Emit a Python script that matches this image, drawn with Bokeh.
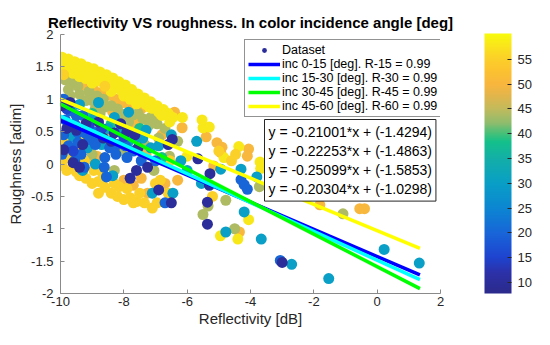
import numpy as np
from bokeh.plotting import figure
from bokeh.models import (Range1d, LinearColorMapper, ColorBar, FixedTicker, Legend,
                          LegendItem, Label, ColumnDataSource)
from bokeh.embed import file_html
from bokeh.resources import INLINE

TITLE = "Reflectivity VS roughness. In color incidence angle [deg]"
X_LABEL = "Reflectivity [dB]"
Y_LABEL = "Roughness [adim]"

# ---- scatter data: (reflectivity dB, roughness) grouped by incidence angle ----
pts_58 = [(-9.95,1.65),(-9.75,1.62),(-9.55,1.58),(-9.35,1.55),(-9.15,1.5),(-8.95,1.47),(-8.75,1.42),
          (-8.55,1.38),(-8.35,1.33),(-8.15,1.27),(-7.95,1.22),(-7.75,1.15),(-7.55,1.08),(-7.35,1.02),
          (-7.15,0.96),(-6.95,0.9),(-6.75,0.84),(-9.9,1.52),(-9.7,1.5),(-9.5,1.46),(-9.3,1.42),(-9.1,1.38),
          (-8.9,1.34),(-8.7,1.3),(-8.5,1.26),(-8.3,1.2),(-8.1,1.14),(-7.9,1.1),(-7.7,1.04),(-7.5,0.98),
          (-7.3,0.92),(-7.1,0.86),(-6.9,0.8),(-6.6,0.78),(-6.45,0.72),(-9.4,1.35),(-9.0,1.25),(-8.4,1.12),
          (-7.6,0.93),(-6.15,0.72),(-5.53,0.68),(-5.5,0.56),(-5.3,0.57),(-4.37,0.27),(-4.84,0.1),(-6.0,0.12),
          (-3.7,0.03),(-3.68,-0.07),(-2.7,-0.18),(-2.47,-0.18),(-4.06,-0.86),(-4.95,-1.11),(-4.4,-1.16),
          (-9.95,1.45),(-9.6,1.4),(-9.2,1.32),(-8.8,1.28),(-8.0,1.05),(-7.8,1.0),(-7.2,0.88),(-6.8,0.75),
          (-6.55,0.65)]
pts_55 = [(-9.95,-0.02),(-9.8,-0.1),(-9.6,-0.06),(-9.4,-0.18),(-9.2,-0.22),(-9.0,-0.3),(-8.8,-0.27),
          (-8.6,-0.36),(-8.4,-0.45),(-8.2,-0.5),(-8.0,-0.55),(-7.8,-0.52),(-7.6,-0.58),(-7.35,-0.6),
          (-7.1,-0.68),(-6.95,-0.6),(-8.3,-0.3),(-7.9,-0.38),(-8.7,-0.12),(-9.25,0.05),(-9.7,0.12),
          (-9.55,0.25),(-9.85,0.35),(-9.65,0.5),(-9.2,0.38),(-8.95,-0.1),(-6.55,0.05),(-6.85,-0.25),
          (-5.2,-0.5),(-4.6,0.05),(-4.47,0.15),(-5.0,0.2),(-9.9,1.38),(-8.6,1.2),(-9.8,0.1),(-9.5,-0.12),
          (-8.15,-0.35),(-7.5,-0.45),(-7.0,-0.3),(-6.6,-0.45),(-8.8,-0.45),(-7.7,-0.6)]
pts_50 = [(-9.55,1.25),(-9.25,1.22),(-8.95,1.15),(-8.45,1.06),(-8.25,1.0),(-8.0,0.95),(-7.8,0.9),
          (-7.45,0.85),(-8.85,0.12),(-8.95,0.05),(-8.0,-0.25),(-7.7,-0.33),(-7.45,-0.22),(-7.25,-0.45),
          (-7.3,0.15),(-6.4,0.8),(-6.16,0.56),(-5.4,0.42),(-5.06,0.33),(-4.9,0.26),(-4.06,0.23),
          (-4.94,0.18),(-4.1,0.12),(-5.16,-0.03),(-2.66,-0.26),(-2.03,-0.21),(-1.81,-0.63),(-0.55,-0.69),
          (-0.4,-0.69),(-4.35,-1.05),(-6.3,-0.25),(-9.45,0.4),(-7.55,0.65),(-7.0,0.7),(-6.7,-0.3),
          (-8.65,1.12),(-8.35,0.8),(-7.65,0.6),(-6.8,0.45)]
pts_44 = [(-9.85,1.3),(-9.65,1.28),(-9.45,1.2),(-9.75,1.15),(-9.1,1.12),(-8.85,1.05),(-8.65,1.0),
          (-8.6,0.88),(-8.9,0.86),(-9.2,0.98),(-8.2,0.85),(-8.0,0.77),(-7.7,0.76),(-7.4,0.7),(-8.03,0.2),
          (-7.34,0.3),(-6.56,0.12),(-7.05,-0.1),(-6.9,0.4),(-5.5,-0.78),(-5.34,-0.65),(-4.78,-0.56),
          (-3.72,-0.35),(-4.5,-1.0),(-1.08,-0.77),(-9.3,0.55),(-8.5,0.45),(-7.2,0.6),(-6.3,0.35),
          (-9.0,0.15),(-9.55,-0.05),(-8.3,-0.1),(-9.7,1.05),(-9.4,1.08),(-9.0,0.98),(-8.75,0.78),
          (-8.4,0.9),(-8.1,0.7),(-7.85,0.65),(-7.55,0.78),(-7.15,0.72),(-6.95,0.62),(-6.7,0.55)]
pts_38 = [(-9.0,0.78),(-8.4,0.62),(-7.5,0.55),(-6.8,0.1),(-9.6,0.9)]
pts_30 = [(-9.4,0.92),(-9.0,0.68),(-8.8,0.95),(-8.3,0.72),(-7.6,0.42),(-7.3,0.52),(-6.9,0.28),(-6.5,0.45),
          (-6.2,0.05),(-7.1,-0.45),(-6.45,-0.45),(-6.0,-0.1),(-4.94,-0.08),(-4.3,-0.08),(-3.8,-0.2),
          (-4.2,-0.74),(-4.78,-1.05),(-3.66,-1.16),(-2.7,-1.55),(-1.53,-1.77),(0.22,-1.32),(1.33,-1.53),
          (-9.6,0.42),(-9.15,0.25),(-8.7,0.3),(-5.55,-0.3),(-5.7,0.35),(-7.85,0.8),(-9.3,-0.1),
          (-8.5,0.55),(-8.15,0.5),(-7.85,0.35),(-7.4,0.4),(-7.15,0.25),(-8.9,0.0),(-8.35,-0.18)]
pts_20 = [(-9.9,1.0),(-9.7,0.82),(-9.5,0.75),(-9.85,0.68),(-9.55,0.62),(-9.3,0.75),(-9.9,0.45),
          (-9.75,0.28),(-9.45,0.33),(-9.2,0.47),(-8.95,0.5),(-9.35,0.15),(-8.6,0.1),(-8.62,-0.05),
          (-8.55,-0.2),(-8.2,0.3),(-8.9,0.3),(-6.7,-0.6),(-4.3,-0.24),(-4.2,-0.32),(-4.1,-0.39),
          (-3.06,-1.49),(-9.95,0.15),(-7.9,0.1),(-7.0,0.05),(-9.7,0.6),(-9.45,0.48),(-9.1,0.38),
          (-8.85,0.42),(-8.45,0.25),(-8.25,0.15),(-7.95,0.28),(-7.7,0.2),(-7.45,0.05),(-9.55,0.05),
          (-9.25,-0.05)]
pts_15 = [(-9.8,0.85),(-9.1,0.6),(-8.7,0.55),(-8.0,0.42),(-9.6,0.2)]
pts_10 = [(-9.95,0.9),(-9.7,0.95),(-9.5,0.52),(-9.8,0.55),(-9.9,0.22),(-9.6,0.02),(-9.2,0.62),(-8.8,0.65),
          (-7.9,0.5),(-7.65,0.45),(-7.8,-0.22),(-7.6,-0.1),(-6.6,0.3),(-6.47,0.38),(-6.5,-0.6),(-5.66,0.08),
          (-5.28,-0.15),(-5.3,-0.33),(-5.36,-0.59),(-5.36,-0.93),(-3.0,-1.52),(-8.4,0.35),(-9.4,-0.05),
          (-8.1,0.62),(-9.3,0.3),(-8.65,0.4),(-8.3,0.48),(-7.55,0.25),(-7.25,-0.05),(-6.9,-0.4)]

groups = [(50, pts_50), (44, pts_44), (58, pts_58), (55, pts_55), (38, pts_38),
          (30, pts_30), (20, pts_20), (15, pts_15), (10, pts_10)]

# ---- fitted lines (from the equations shown) ----
fit_labels = ["inc 0-15 [deg]. R-15 = 0.99", "inc 15-30 [deg]. R-30 = 0.99",
              "inc 30-45 [deg]. R-45 = 0.99", "inc 45-60 [deg]. R-60 = 0.99"]
fit_slopes = [-0.21001, -0.22253, -0.25099, -0.20304]
fit_intercepts = [-1.4294, -1.4863, -1.5853, -1.0298]
fit_x = [-10.0, 1.35]
fit_colors = ["#0000FF", "#00FFFF", "#00FF00", "#FFFF00"]
eq_lines = ["y = -0.21001*x + (-1.4294)", "y = -0.22253*x + (-1.4863)",
            "y = -0.25099*x + (-1.5853)", "y = -0.20304*x + (-1.0298)"]

x_ticks = [-10, -8, -6, -4, -2, 0, 2]
y_ticks = [-2, -1.5, -1, -0.5, 0, 0.5, 1, 1.5, 2]
cb_ticks = [10, 15, 20, 25, 30, 35, 40, 45, 50, 55]
angle_low, angle_high = 7.8, 60.2

# ---- parula-like palette ----
anchors = [(7.8, "#2B2A8C"), (12, "#2C31A8"), (15, "#1E44D0"), (20, "#1866D8"), (25, "#0C86D2"),
           (30, "#099FC6"), (35, "#13AFA8"), (38.5, "#14C08A"), (40, "#40C07A"), (42, "#8CBC6E"),
           (45, "#C2BA5C"), (48, "#E5B54A"), (50, "#F8B63E"), (53, "#FCC330"), (56, "#FBD625"),
           (60.2, "#F8FA0D")]
av = np.array([a[0] for a in anchors])
ac = np.array([[int(c[1][i:i+2], 16) for i in (1, 3, 5)] for c in anchors], dtype=float)
vals = np.linspace(angle_low, angle_high, 256)
palette = []
for v in vals:
    rgb = [int(round(np.interp(v, av, ac[:, k]))) for k in range(3)]
    palette.append("#%02x%02x%02x" % tuple(rgb))

mapper = LinearColorMapper(palette=palette, low=angle_low, high=angle_high)

FONT = "Liberation Sans"
TXT = "#262626"

p = figure(width=534, height=329, output_backend="svg", toolbar_location=None,
           x_range=Range1d(-10, 2), y_range=Range1d(-2, 2),
           min_border_left=60, min_border_right=94, min_border_top=34, min_border_bottom=34,
           title=TITLE)
p.outline_line_color = None
p.xgrid.visible = False
p.ygrid.visible = False
p.title.align = "center"
p.title.offset = 6
p.title.text_font = FONT
p.title.text_font_size = "15px"
p.title.text_font_style = "bold"
p.title.text_color = "black"
p.title.standoff = 8

for ax, ticks, lab in ((p.xaxis[0], x_ticks, X_LABEL), (p.yaxis[0], y_ticks, Y_LABEL)):
    ax.ticker = FixedTicker(ticks=ticks)
    ax.major_label_overrides = {t: ("%g" % t) for t in ticks}
    ax.minor_tick_line_color = None
    ax.major_tick_in = 4
    ax.major_tick_out = 0
    ax.axis_line_color = "#8a8a8a"
    ax.major_tick_line_color = "#8a8a8a"
    ax.major_label_text_font = FONT
    ax.major_label_text_font_size = "13px"
    ax.major_label_text_color = TXT
    ax.axis_label = lab
    ax.axis_label_text_font = FONT
    ax.axis_label_text_font_size = "15px"
    ax.axis_label_text_font_style = "normal"
    ax.axis_label_text_color = TXT
p.xaxis.major_label_standoff = 3
p.xaxis.axis_label_standoff = 1
p.yaxis.major_label_standoff = 7
p.yaxis.axis_label_standoff = 4

xs, ys, angs = [], [], []
for a, pts in groups:
    for (x, y) in pts:
        xs.append(x); ys.append(y); angs.append(a)
src = ColumnDataSource(dict(x=xs, y=ys, angle=angs))
sc = p.scatter("x", "y", source=src, size=11, line_color=None,
               fill_color={"field": "angle", "transform": mapper})

items = [LegendItem(label="Dataset", renderers=[sc], index=angs.index(10))]
for lab, m, b, c in zip(fit_labels, fit_slopes, fit_intercepts, fit_colors):
    r = p.line(fit_x, [m * x + b for x in fit_x], line_color=c, line_width=3.5)
    items.append(LegendItem(label=lab, renderers=[r]))

legend = Legend(items=items, location=(184, 176), border_line_color=TXT, border_line_width=1,
                background_fill_color="white", background_fill_alpha=1,
                label_text_font=FONT, label_text_font_size="12.5px", label_text_color="black",
                glyph_width=32, glyph_height=12, label_height=12, spacing=0, padding=3,
                margin=0, label_standoff=2)
p.add_layout(legend, "center")

eq = Label(x=204, y=174, x_units="screen", y_units="screen", text="\n".join(eq_lines),
           anchor="top_left", text_font=FONT, text_font_size="14px", text_color="black",
           border_line_color=TXT, border_line_width=1, background_fill_color="white",
           padding=4)
p.add_layout(eq)

cb = ColorBar(color_mapper=mapper, ticker=FixedTicker(ticks=cb_ticks), width=27, height=260,
              padding=0, margin=0, location=(424, 0), label_standoff=6,
              major_label_text_font=FONT, major_label_text_font_size="13px",
              major_label_text_color=TXT, major_tick_in=4, major_tick_out=0,
              major_tick_line_color=TXT, bar_line_color=None, border_line_color=None,
              background_fill_alpha=0)
p.add_layout(cb, "center")

open("out.html", "w").write(file_html(p, INLINE))
